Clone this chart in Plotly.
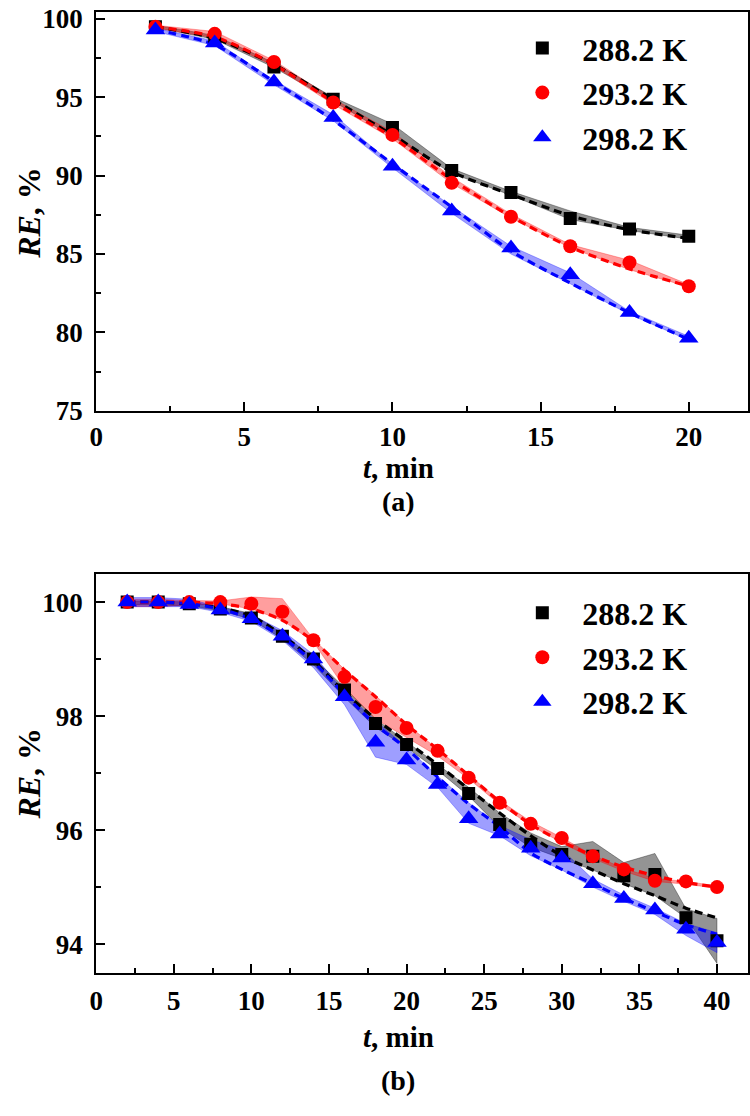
import plotly.graph_objects as go

# ---------------- data ----------------
names = ["288.2 K", "293.2 K", "298.2 K"]

t_a = [2, 4, 6, 8, 10, 12, 14, 16, 18, 20]
re_a_288 = [99.5, 98.8, 96.94, 94.87, 93.08, 90.33, 88.92, 87.27, 86.6, 86.13]
re_a_293 = [99.5, 99.05, 97.25, 94.67, 92.6, 89.54, 87.38, 85.5, 84.46, 82.94]
re_a_298 = [99.3, 98.46, 95.98, 93.71, 90.6, 87.75, 85.38, 83.67, 81.27, 79.62]
fit_a_288 = [99.5, 98.75, 97.1, 94.85, 92.6, 90.25, 88.8, 87.45, 86.55, 86.0]
fit_a_293 = [99.5, 98.85, 97.1, 94.7, 92.45, 89.75, 87.4, 85.45, 84.05, 82.95]
fit_a_298 = [99.3, 98.35, 96.0, 93.55, 90.75, 88.0, 85.2, 83.15, 81.25, 79.55]
hi_a_288 = [99.6, 98.95, 97.2, 95.0, 93.3, 90.45, 89.0, 87.75, 86.7, 86.2]
lo_a_288 = [99.45, 98.7, 96.9, 94.75, 92.5, 90.15, 88.75, 87.2, 86.5, 85.95]
hi_a_293 = [99.6, 99.2, 97.35, 94.9, 92.8, 89.9, 87.55, 85.6, 84.6, 83.05]
lo_a_293 = [99.4, 98.8, 97.0, 94.55, 92.35, 89.5, 87.3, 85.4, 84.0, 82.9]
hi_a_298 = [99.4, 98.6, 96.1, 93.9, 90.75, 88.05, 85.5, 83.8, 81.35, 79.75]
lo_a_298 = [99.2, 98.3, 95.8, 93.5, 90.5, 87.6, 85.0, 83.1, 81.15, 79.5]

t_b = [2, 4, 6, 8, 10, 12, 14, 16, 18, 20, 22, 24, 26, 28, 30, 32, 34, 36, 38, 40]
re_b_288 = [100.0, 100.0, 99.97, 99.88, 99.72, 99.4, 99.0, 98.46, 97.87, 97.5, 97.08, 96.64, 96.1, 95.75, 95.57, 95.54, 95.2, 95.22, 94.46, 94.06]
re_b_293 = [100.0, 100.0, 100.0, 100.0, 99.97, 99.83, 99.33, 98.69, 98.16, 97.79, 97.39, 96.92, 96.48, 96.11, 95.86, 95.54, 95.31, 95.11, 95.1, 95.0]
re_b_298 = [100.0, 100.0, 99.96, 99.86, 99.71, 99.4, 99.0, 98.34, 97.54, 97.23, 96.8, 96.2, 95.93, 95.68, 95.51, 95.06, 94.8, 94.6, 94.26, 94.03]
fit_b_288 = [100.0, 100.0, 99.97, 99.9, 99.75, 99.42, 98.97, 98.42, 97.95, 97.55, 97.15, 96.72, 96.3, 95.9, 95.55, 95.3, 95.06, 94.85, 94.63, 94.46]
fit_b_293 = [100.0, 100.0, 100.0, 99.97, 99.88, 99.68, 99.32, 98.81, 98.34, 97.85, 97.42, 96.96, 96.5, 96.1, 95.8, 95.55, 95.35, 95.2, 95.08, 95.0]
fit_b_298 = [100.0, 100.0, 99.97, 99.88, 99.7, 99.38, 98.95, 98.38, 97.85, 97.43, 96.93, 96.46, 96.06, 95.6, 95.31, 95.06, 94.8, 94.57, 94.34, 94.17]
hi_b_288 = [100.02, 100.02, 100.0, 99.92, 99.8, 99.45, 99.02, 98.5, 97.95, 97.55, 97.15, 96.75, 96.3, 95.95, 95.71, 95.8, 95.43, 95.59, 94.62, 94.45]
lo_b_288 = [99.95, 99.95, 99.93, 99.85, 99.7, 99.35, 98.9, 98.33, 97.8, 97.45, 97.05, 96.6, 96.05, 95.7, 95.5, 95.3, 95.06, 94.85, 94.46, 93.66]
hi_b_293 = [100.05, 100.05, 100.03, 100.02, 100.09, 100.06, 99.35, 98.82, 98.36, 97.86, 97.42, 96.97, 96.52, 96.15, 95.87, 95.56, 95.33, 95.15, 95.1, 95.02]
lo_b_293 = [99.92, 99.92, 99.95, 99.97, 99.88, 99.68, 99.3, 98.5, 97.95, 97.62, 97.3, 96.9, 96.45, 96.08, 95.78, 95.5, 95.28, 95.1, 95.05, 94.98]
hi_b_298 = [100.08, 100.08, 100.05, 99.92, 99.78, 99.5, 99.08, 98.42, 97.92, 97.45, 96.95, 96.48, 96.08, 95.83, 95.66, 95.14, 94.86, 94.63, 94.36, 94.2]
lo_b_298 = [99.92, 99.92, 99.92, 99.82, 99.66, 99.33, 98.85, 98.2, 97.28, 97.15, 96.75, 96.12, 95.9, 95.55, 95.3, 95.0, 94.75, 94.52, 94.15, 93.85]

ticks_a_x = [0, 5, 10, 15, 20]
ticks_a_y = [75, 80, 85, 90, 95, 100]
ticks_b_x = [0, 5, 10, 15, 20, 25, 30, 35, 40]
ticks_b_y = [94, 96, 98, 100]

# ---------------- style ----------------
colors = ["#000000", "#ff0000", "#0000ff"]
fills = ["rgba(0,0,0,0.42)", "rgba(255,0,0,0.38)", "rgba(0,0,255,0.38)"]
symbols = ["square", "circle", "triangle-up"]
msizes = [13, 14, 17]
FONT = "Liberation Serif"

fig = go.Figure()

panels = [
    dict(t=t_a, re=[re_a_288, re_a_293, re_a_298], fit=[fit_a_288, fit_a_293, fit_a_298],
         hi=[hi_a_288, hi_a_293, hi_a_298], lo=[lo_a_288, lo_a_293, lo_a_298],
         xa="x", ya="y", legend="legend"),
    dict(t=t_b, re=[re_b_288, re_b_293, re_b_298], fit=[fit_b_288, fit_b_293, fit_b_298],
         hi=[hi_b_288, hi_b_293, hi_b_298], lo=[lo_b_288, lo_b_293, lo_b_298],
         xa="x2", ya="y2", legend="legend2"),
]

for p in panels:
    t = p["t"]
    for i in range(3):
        fig.add_trace(go.Scatter(
            x=t + t[::-1], y=p["hi"][i] + p["lo"][i][::-1], fill="toself",
            fillcolor=fills[i], line=dict(width=0.8, color=fills[i]), mode="lines",
            showlegend=False, hoverinfo="skip", xaxis=p["xa"], yaxis=p["ya"]))
    for i in range(3):
        fig.add_trace(go.Scatter(
            x=t, y=p["fit"][i], mode="lines",
            line=dict(color=colors[i], width=3.2, dash="8px,5px", shape="spline", smoothing=0.8),
            showlegend=False, xaxis=p["xa"], yaxis=p["ya"]))
    for i in range(3):
        fig.add_trace(go.Scatter(
            x=t, y=p["re"][i], mode="markers", name=names[i],
            marker=dict(symbol=symbols[i], size=msizes[i], color=colors[i], line=dict(width=0)),
            legend=p["legend"], xaxis=p["xa"], yaxis=p["ya"]))

W, H = 750, 1116
def px_x(v):
    return v / W
def px_y(v):
    return 1 - v / H

tickfont = dict(family=FONT, size=27, color="black", weight="bold")
common_axis = dict(showline=True, linewidth=2, linecolor="black", mirror=True,
                   ticks="inside", ticklen=9, tickwidth=1.5, tickcolor="black",
                   showgrid=False, zeroline=False, tickfont=tickfont,
                   ticklabeloverflow="allow")
minor_x = dict(dtick=2.5, tick0=0, ticklen=5, tickwidth=1.5, ticks="inside", tickcolor="black")
legend_font = dict(family=FONT, size=32, color="black", weight="bold")

fig.update_layout(
    width=W, height=H,
    margin=dict(l=0, r=0, t=0, b=0),
    plot_bgcolor="white", paper_bgcolor="white",
    xaxis=dict(domain=[px_x(90), px_x(748)], range=[0, 22], tickvals=ticks_a_x, anchor="y",
               minor=minor_x, ticklabelstandoff=1, **common_axis),
    yaxis=dict(domain=[px_y(412), px_y(5)], range=[74.99, 100.45], tickvals=ticks_a_y, anchor="x",
               minor=dict(dtick=2.5, tick0=0, ticklen=5, tickwidth=1.5, ticks="inside", tickcolor="black"),
               ticklabelstandoff=6, **common_axis),
    xaxis2=dict(domain=[px_x(90), px_x(748)], range=[0, 42], tickvals=ticks_b_x, anchor="y2",
                minor=minor_x, ticklabelstandoff=3, **common_axis),
    yaxis2=dict(domain=[px_y(985), px_y(578)], range=[93.5, 100.5], tickvals=ticks_b_y, anchor="x2",
                minor=dict(dtick=1, tick0=0, ticklen=5, tickwidth=1.5, ticks="inside", tickcolor="black"),
                ticklabelstandoff=6, **common_axis),
    legend=dict(x=px_x(500), y=px_y(14), xanchor="left", yanchor="top", font=legend_font,
                bgcolor="rgba(0,0,0,0)", tracegroupgap=0, itemwidth=70),
    legend2=dict(x=px_x(500), y=px_y(590), xanchor="left", yanchor="top", font=legend_font,
                 bgcolor="rgba(0,0,0,0)", tracegroupgap=0, itemwidth=70),
    showlegend=True,
)

ann_font_title = dict(family=FONT, size=29, color="black", weight="bold")
ann_font_y = dict(family=FONT, size=32, color="black", weight="bold")
ann_font_lab = dict(family=FONT, size=28, color="black", weight="bold")
annotations = [
    dict(text="<i>t</i>, min", x=px_x(395), y=px_y(470), xref="paper", yref="paper",
         showarrow=False, font=ann_font_title, xanchor="center", yanchor="middle"),
    dict(text="(a)", x=px_x(395), y=px_y(504), xref="paper", yref="paper",
         showarrow=False, font=ann_font_lab, xanchor="center", yanchor="middle"),
    dict(text="<i>RE</i>, %", x=px_x(2), y=px_y(210), xref="paper", yref="paper", textangle=-90,
         showarrow=False, font=ann_font_y, xanchor="left", yanchor="middle"),
    dict(text="<i>t</i>, min", x=px_x(395), y=px_y(1051), xref="paper", yref="paper",
         showarrow=False, font=ann_font_title, xanchor="center", yanchor="middle"),
    dict(text="(b)", x=px_x(395), y=px_y(1095), xref="paper", yref="paper",
         showarrow=False, font=ann_font_lab, xanchor="center", yanchor="middle"),
    dict(text="<i>RE</i>, %", x=px_x(2), y=px_y(782), xref="paper", yref="paper", textangle=-90,
         showarrow=False, font=ann_font_y, xanchor="left", yanchor="middle"),
]
fig.update_layout(annotations=annotations)

fig.write_html("out.html", config={"displayModeBar": False},
               post_script="document.body.style.margin='0px';")
